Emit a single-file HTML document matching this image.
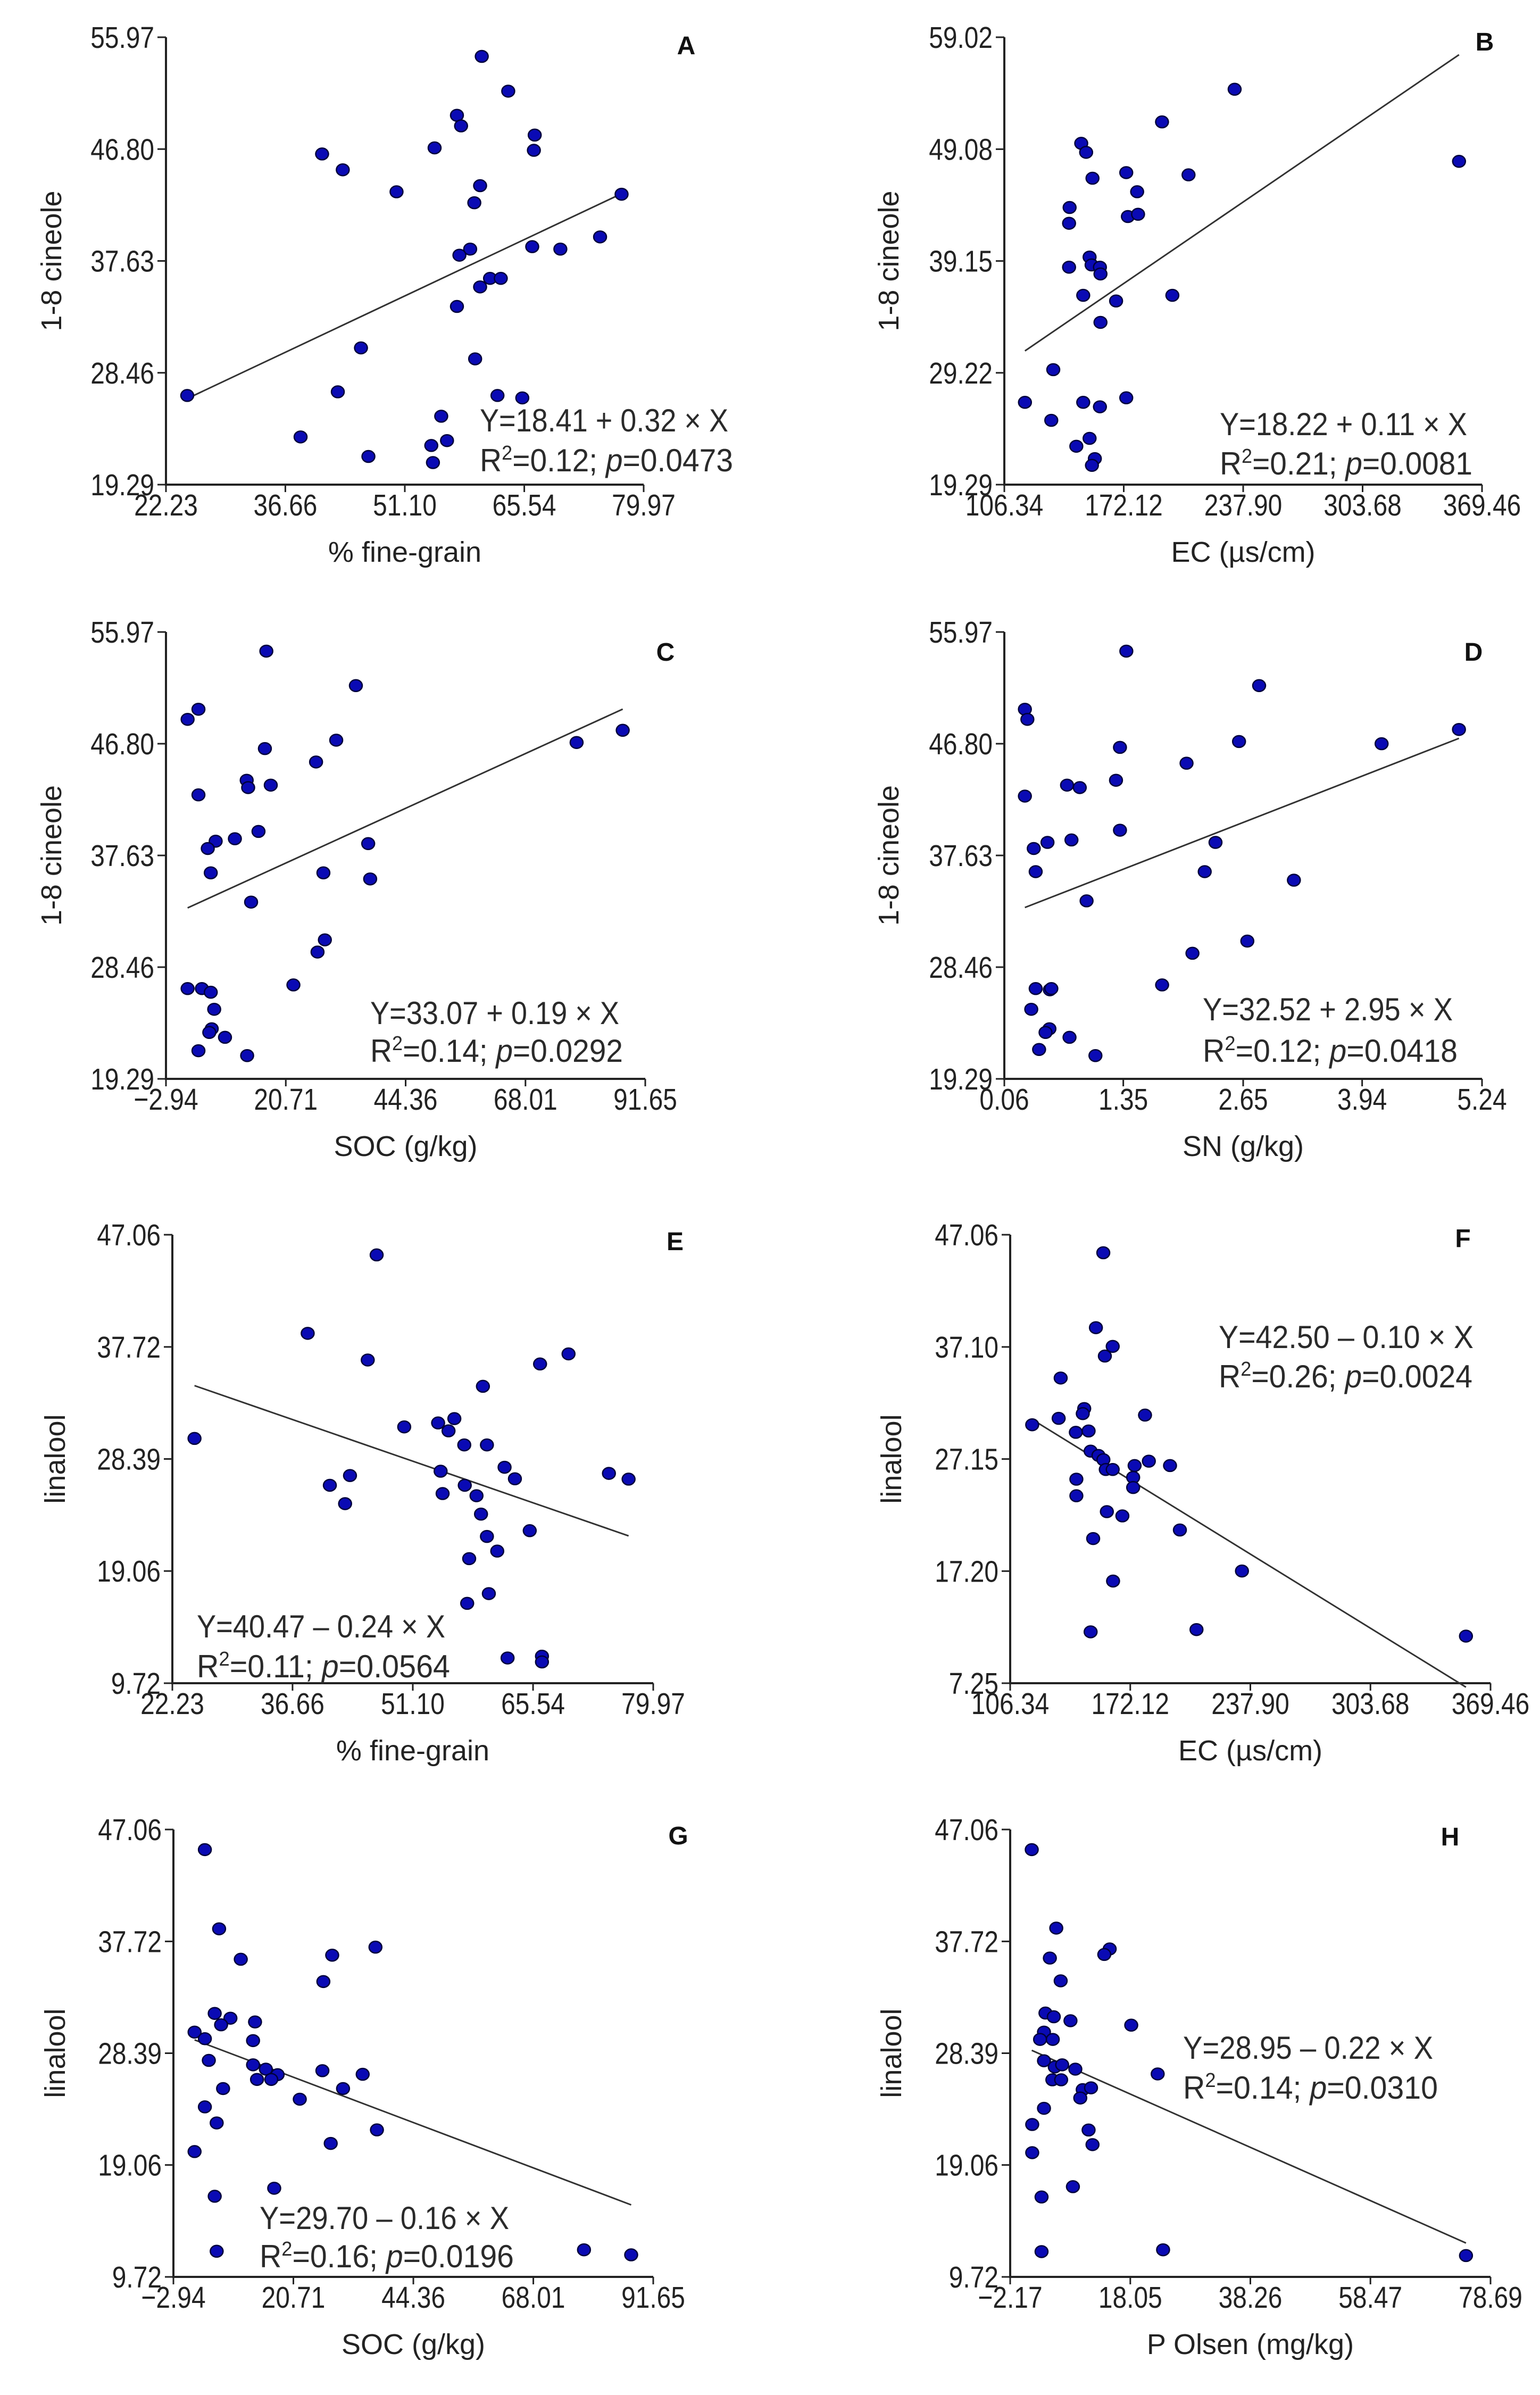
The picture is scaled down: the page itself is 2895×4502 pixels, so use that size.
<!DOCTYPE html>
<html><head><meta charset="utf-8"><style>
html,body{margin:0;padding:0;background:#fff;}
svg{display:block;}
text{font-family:"Liberation Sans",sans-serif;fill:#222;}
</style></head><body>
<svg id="fig" xmlns="http://www.w3.org/2000/svg" width="2895" height="4502" viewBox="0 0 2895 4502"></svg>
<script>
// ---- data ----
const aX=[60.4,63.6,57.4,57.9,66.8,66.7,41.1,54.7,43.6,50.1,60.2,59.5,77.3,74.7,66.5,69.9,59.0,57.7,61.4,62.7,60.2,57.4,45.8,59.6,24.8,43.0,62.3,65.3,55.5,38.5,56.2,54.3,46.7,54.5];
const aY=[54.4,51.55,49.57,48.7,47.95,46.7,46.4,46.9,45.1,43.3,43.8,42.4,43.1,39.6,38.8,38.6,38.6,38.1,36.2,36.2,35.5,33.9,30.5,29.6,26.6,26.9,26.6,26.4,24.9,23.2,22.9,22.5,21.6,21.1];
const bX=[233.2,193.2,148.7,151.4,356.8,173.5,207.8,154.9,179.5,142.3,142.0,174.4,180.0,153.3,154.4,159.0,159.3,142.0,149.8,167.9,198.9,159.3,133.3,117.7,149.8,159.0,173.5,132.2,153.3,146.0,156.2,154.6];
const bY=[54.4,51.5,49.6,48.8,48.0,47.0,46.8,46.5,45.3,43.9,42.5,43.1,43.3,39.5,38.8,38.6,38.0,38.6,36.1,35.6,36.1,33.7,29.5,26.6,26.6,26.2,27.0,25.0,23.4,22.7,21.6,21.0];
const cX=[16.87,34.54,3.47,1.33,30.66,87.2,78.1,16.58,26.68,12.99,13.28,17.74,3.47,15.32,10.66,6.87,5.31,36.97,5.90,28.13,37.36,13.86,28.42,26.97,22.21,1.33,4.15,5.90,6.58,6.09,5.61,8.71,3.47,13.08];
const cY=[54.4,51.57,49.63,48.8,47.09,47.9,46.9,46.4,45.3,43.8,43.2,43.4,42.6,39.6,39.0,38.8,38.2,38.6,36.2,36.2,35.7,33.8,30.7,29.7,27.0,26.7,26.7,26.4,25.0,23.4,23.1,22.7,21.6,21.2];
const dX=[1.383,2.823,0.283,0.310,4.99,2.605,4.151,1.314,2.036,1.271,0.740,0.878,0.283,1.314,0.788,0.528,0.379,2.350,0.400,2.233,3.200,0.952,2.695,2.100,1.771,0.400,0.554,0.570,0.352,0.549,0.507,0.767,0.437,1.048];
const dY=[54.4,51.57,49.63,48.8,47.97,46.98,46.8,46.5,45.2,43.8,43.4,43.2,42.5,39.7,38.9,38.7,38.2,38.7,36.3,36.3,35.6,33.9,30.6,29.6,27.0,26.7,26.6,26.7,25.0,23.4,23.1,22.7,21.7,21.2];
const eX=[46.76,38.48,45.69,69.80,66.38,59.52,24.89,50.07,54.14,56.09,55.39,57.28,60.0,62.12,63.36,74.65,77.01,54.44,43.56,41.14,57.34,54.68,42.97,58.75,59.29,65.14,60.0,61.24,57.87,60.23,57.63,62.48,66.61,66.61];
const eY=[45.38,38.85,36.63,37.14,36.30,34.44,30.1,31.06,31.39,31.75,30.73,29.56,29.56,27.70,26.74,27.19,26.71,27.37,27.01,26.2,26.2,25.51,24.67,25.33,23.8,22.42,21.94,20.72,20.09,17.18,16.37,11.82,11.97,11.49];
const fX=[157.35,153.3,162.5,158.2,134.0,146.9,146.1,132.9,118.4,180.2,142.3,149.3,150.4,154.7,157.4,158.7,162.5,174.5,182.3,193.9,173.7,173.7,142.6,142.6,159.3,167.8,199.3,151.8,233.3,162.7,150.4,208.4,356.0];
const fY=[45.46,38.81,37.15,36.29,34.34,31.63,31.18,30.76,30.19,31.05,29.52,29.64,27.85,27.47,27.09,26.22,26.22,26.57,26.96,26.57,25.52,24.62,25.36,23.89,22.48,22.10,20.85,20.09,17.21,16.32,11.81,12.01,11.43];
const gX=[3.26,6.07,10.34,36.89,28.36,26.62,5.2,8.30,6.46,13.15,1.23,3.26,12.76,4.04,12.76,15.28,17.6,16.35,13.54,26.43,34.37,30.5,6.85,21.97,3.26,5.59,37.18,28.07,1.23,16.93,5.2,5.59,78.0,87.3];
const gY=[45.38,38.77,36.23,37.24,36.57,34.37,31.71,31.31,30.76,31.0,30.15,29.6,29.44,27.79,27.42,27.06,26.6,26.2,26.2,26.93,26.63,25.44,25.44,24.55,23.91,22.57,21.99,20.86,20.18,17.12,16.45,11.86,11.98,11.56];
const hX=[1.46,5.59,14.58,13.67,4.51,6.33,3.77,5.17,7.98,18.21,3.52,2.86,5.0,3.52,5.34,6.58,8.8,22.66,4.93,6.41,10.04,11.44,9.63,3.52,1.54,11.03,11.69,1.54,8.39,3.11,3.11,23.57,74.56];
const hY=[45.38,38.83,37.09,36.63,36.33,34.43,31.74,31.43,31.1,30.73,30.15,29.54,29.54,27.76,27.24,27.42,27.06,26.66,26.17,26.17,25.35,25.5,24.65,23.79,22.44,21.98,20.76,20.09,17.25,16.39,11.83,11.98,11.50];

const tickXFine=["22.23","36.66","51.10","65.54","79.97"];
const tickXEC=["106.34","172.12","237.90","303.68","369.46"];
const tickXSOC=["\u22122.94","20.71","44.36","68.01","91.65"];
const tickXSN=["0.06","1.35","2.65","3.94","5.24"];
const tickXP=["\u22122.17","18.05","38.26","58.47","78.69"];
const tickYCinA=["19.29","28.46","37.63","46.80","55.97"];
const tickYCinB=["19.29","29.22","39.15","49.08","59.02"];
const tickYLin=["9.72","19.06","28.39","37.72","47.06"];
const tickYLinF=["7.25","17.20","27.15","37.10","47.06"];

const intercepts=[18.41,18.22,33.07,32.52,40.47,42.50,29.70,28.95];
const slopes=[0.32,0.11,0.19,2.95,-0.24,-0.10,-0.16,-0.22];
const r2Labels=["0.12","0.21","0.14","0.12","0.11","0.26","0.16","0.14"];
const pLabels=["0.0473","0.0081","0.0292","0.0418","0.0564","0.0024","0.0196","0.0310"];
const eqLabels=["Y=18.41 + 0.32 \u00d7 X","Y=18.22 + 0.11 \u00d7 X","Y=33.07 + 0.19 \u00d7 X","Y=32.52 + 2.95 \u00d7 X","Y=40.47 \u2013 0.24 \u00d7 X","Y=42.50  \u2013 0.10 \u00d7 X","Y=29.70 \u2013 0.16 \u00d7 X","Y=28.95 \u2013 0.22 \u00d7 X"];

// ---- layout ----
const panels=[
 {id:"a",L:"A",x:aX,y:aY,tx:tickXFine,ty:tickYCinA,xt:"% fine-grain",yt:"1-8 cineole",x0:312,x1:1210,yT:70,yB:911,eq:[902,811,886,467,476],lp:[1290,85],ytx:97},
 {id:"b",L:"B",x:bX,y:bY,tx:tickXEC,ty:tickYCinB,xt:"EC (\u00b5s/cm)",yt:"1-8 cineole",x0:1888,x1:2786,yT:70,yB:911,eq:[2293,818,892,465,475],lp:[2791,78],ytx:1671},
 {id:"c",L:"C",x:cX,y:cY,tx:tickXSOC,ty:tickYCinA,xt:"SOC (g/kg)",yt:"1-8 cineole",x0:312,x1:1213,yT:1188,yB:2028,eq:[696,1925,1996,468,475],lp:[1251,1225],ytx:97},
 {id:"d",L:"D",x:dX,y:dY,tx:tickXSN,ty:tickYCinA,xt:"SN (g/kg)",yt:"1-8 cineole",x0:1888,x1:2786,yT:1188,yB:2028,eq:[2261,1918,1996,470,479],lp:[2770,1225],ytx:1671},
 {id:"e",L:"E",x:eX,y:eY,tx:tickXFine,ty:tickYLin,xt:"% fine-grain",yt:"linalool",x0:324,x1:1228,yT:2321,yB:3164,eq:[370,3078,3153,467,476],lp:[1269,2333],ytx:104},
 {id:"f",L:"F",x:fX,y:fY,tx:tickXEC,ty:tickYLinF,xt:"EC (\u00b5s/cm)",yt:"linalool",x0:1899,x1:2802,yT:2321,yB:3164,eq:[2291,2534,2608,479,477],lp:[2750,2327],ytx:1676},
 {id:"g",L:"G",x:gX,y:gY,tx:tickXSOC,ty:tickYLin,xt:"SOC (g/kg)",yt:"linalool",x0:326,x1:1228,yT:3439,yB:4280,eq:[488,4190,4262,469,478],lp:[1275,3450],ytx:104},
 {id:"h",L:"H",x:hX,y:hY,tx:tickXP,ty:tickYLin,xt:"P Olsen (mg/kg)",yt:"linalool",x0:1899,x1:2802,yT:3439,yB:4280,eq:[2224,3870,3945,470,479],lp:[2726,3452],ytx:1676}
];
const NS="http://www.w3.org/2000/svg";
const svg=document.getElementById('fig');
function mk(tag,attrs,parent){const e=document.createElementNS(NS,tag);for(const k in attrs)e.setAttribute(k,attrs[k]);parent.appendChild(e);return e;}
function num(s){return parseFloat(s.replace('\u2212','-'));}
function squeeze(t,f){const w=t.getComputedTextLength();t.setAttribute('textLength',(w*f).toFixed(1));t.setAttribute('lengthAdjust','spacingAndGlyphs');}

panels.forEach((p,i)=>{
  const g=mk('g',{},svg);
  
  
  const xmin=num(p.tx[0]),xmax=num(p.tx[p.tx.length-1]);
  const ymin=num(p.ty[0]),ymax=num(p.ty[p.ty.length-1]);
  const sx=v=>p.x0+(v-xmin)/(xmax-xmin)*(p.x1-p.x0);
  const sy=v=>p.yB-(v-ymin)/(ymax-ymin)*(p.yB-p.yT);
  // axes
  const ax=mk('line',{x1:p.x0,y1:p.yB,x2:p.x1,y2:p.yB,stroke:'#222','stroke-width':4},g);
  
  
  const ay=mk('line',{x1:p.x0,y1:p.yT,x2:p.x0,y2:p.yB+2,stroke:'#222','stroke-width':4},g);
  
  
  p.tx.forEach(s=>{
    const X=sx(num(s));
    const tk=mk('line',{x1:X,y1:p.yB,x2:X,y2:p.yB+14,stroke:'#222','stroke-width':3},g);
    
    
    const t=mk('text',{x:X,y:p.yB+58,'font-size':57,'text-anchor':'middle'},g);
    t.textContent=s;
    
    
    squeeze(t,0.84);
  });
  p.ty.forEach(s=>{
    const Y=sy(num(s));
    const tk=mk('line',{x1:p.x0-16,y1:Y,x2:p.x0,y2:Y,stroke:'#222','stroke-width':3},g);
    
    
    const t=mk('text',{x:p.x0-22,y:Y+20,'font-size':57,'text-anchor':'end'},g);
    t.textContent=s;
    
    
    squeeze(t,0.84);
  });
  // titles
  const xt=mk('text',{x:(p.x0+p.x1)/2,y:p.yB+145,'font-size':54,'text-anchor':'middle'},g);
  xt.textContent=p.xt;
  
  
  const cy=(p.yT+p.yB)/2;
  const yt=mk('text',{x:p.ytx,y:cy,'font-size':54,'text-anchor':'middle','dominant-baseline':'central',transform:`rotate(-90 ${p.ytx} ${cy})`},g);
  yt.textContent=p.yt;
  
  
  const lt=mk('text',{x:p.lp[0],y:p.lp[1]+17,'font-size':48,'font-weight':'bold','text-anchor':'middle',style:'fill:#111'},g);
  lt.textContent=p.L;
  
  
  // regression line
  const lx0=Math.min(...p.x),lx1=Math.max(...p.x);
  const rl=mk('line',{x1:sx(lx0),y1:sy(intercepts[i]+slopes[i]*lx0),x2:sx(lx1),y2:sy(intercepts[i]+slopes[i]*lx1),stroke:'#333','stroke-width':3},g);
  
  
  // points
  p.x.forEach((v,j)=>{
    const c=mk('ellipse',{cx:sx(v),cy:sy(p.y[j]),rx:12,ry:11,fill:'#0a0ab4',stroke:'#00003a','stroke-width':2.5},g);
    
    
  });
  // equation
  const e1=mk('text',{x:p.eq[0],y:p.eq[1],'font-size':60,textLength:p.eq[3],lengthAdjust:'spacingAndGlyphs',style:'fill:#2a2a2a'},g);
  e1.textContent=eqLabels[i];
  
  
  const e2=mk('text',{x:p.eq[0],y:p.eq[2],'font-size':60,textLength:p.eq[4],lengthAdjust:'spacingAndGlyphs',style:'fill:#2a2a2a'},g);
  e2.innerHTML='R<tspan font-size="38" dy="-22">2</tspan><tspan dy="22">='+r2Labels[i]+'; </tspan><tspan font-style="italic">p</tspan><tspan>='+pLabels[i]+'</tspan>';
  
  
});
</script>
</body></html>
